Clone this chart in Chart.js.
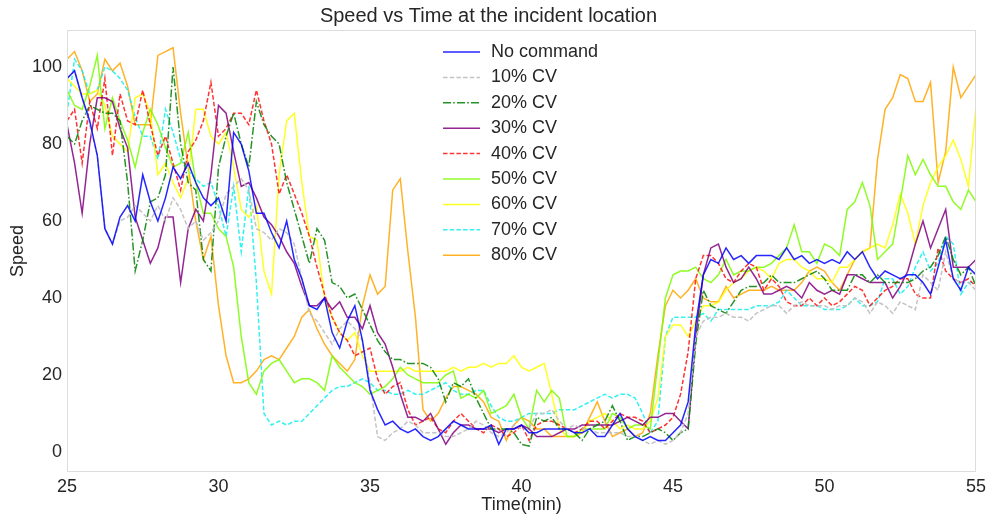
<!DOCTYPE html>
<html>
<head>
<meta charset="utf-8">
<title>Speed vs Time</title>
<script src="https://cdn.jsdelivr.net/npm/chart.js@4.4.1/dist/chart.umd.min.js"></script>
<style>
  html, body { margin: 0; padding: 0; background: #ffffff; }
  #chart { display: block; }
</style>
</head>
<body>
<canvas id="chart" width="990" height="520"></canvas>
<script>
// Sample times (minutes), one sample every 15 s
const times = [
  25, 25.25, 25.5, 25.75, 26, 26.25, 26.5, 26.75, 27, 27.25, 27.5, 27.75, 28, 28.25, 28.5, 28.75, 29, 29.25, 29.5, 29.75,
  30, 30.25, 30.5, 30.75, 31, 31.25, 31.5, 31.75, 32, 32.25, 32.5, 32.75, 33, 33.25, 33.5, 33.75, 34, 34.25, 34.5, 34.75,
  35, 35.25, 35.5, 35.75, 36, 36.25, 36.5, 36.75, 37, 37.25, 37.5, 37.75, 38, 38.25, 38.5, 38.75, 39, 39.25, 39.5, 39.75,
  40, 40.25, 40.5, 40.75, 41, 41.25, 41.5, 41.75, 42, 42.25, 42.5, 42.75, 43, 43.25, 43.5, 43.75, 44, 44.25, 44.5, 44.75,
  45, 45.25, 45.5, 45.75, 46, 46.25, 46.5, 46.75, 47, 47.25, 47.5, 47.75, 48, 48.25, 48.5, 48.75, 49, 49.25, 49.5, 49.75,
  50, 50.25, 50.5, 50.75, 51, 51.25, 51.5, 51.75, 52, 52.25, 52.5, 52.75, 53, 53.25, 53.5, 53.75, 54, 54.25, 54.5, 54.75, 55
];

// Speed per scenario
const noCommand = [
  97, 99, 92, 86, 77, 58, 54, 61, 64, 60, 72, 65, 60, 66, 74, 71, 75, 70, 66, 64,
  66, 60, 83, 80, 73, 62, 62, 57, 53, 60, 50, 45, 38, 37, 40, 31, 27, 34, 38, 29,
  16, 11, 7, 8, 6, 5, 6, 4, 3, 4, 6, 8, 7, 6, 6, 6, 7, 2, 6, 6,
  7, 5, 5, 6, 6, 6, 6, 5, 5, 6, 4, 4, 7, 10, 6, 4, 3, 4, 3, 3,
  5, 7, 13, 33, 46, 50, 49, 53, 50, 51, 49, 51, 51, 51, 50, 53, 50, 51, 49, 50,
  49, 50, 49, 52, 50, 52, 48, 45, 47, 46, 45, 46, 46, 44, 41, 48, 55, 45, 42, 48, 46
];
const cv10 = [
  97, 99, 92, 85, 77, 58, 54, 60, 61, 64, 62, 60, 64, 60, 66, 63, 58, 60, 55, 57,
  60, 67, 69, 71, 68, 58, 57, 55, 58, 57, 54, 45, 36, 34, 31, 28, 32, 34, 32, 29,
  18, 4, 3, 5, 6, 8, 7, 5, 5, 5, 4, 4, 5, 6, 8, 7, 5, 4, 5, 7,
  6, 6, 10, 10, 11, 8, 6, 7, 6, 6, 5, 5, 5, 5, 4, 4, 3, 2, 3, 2,
  3, 5, 10, 30, 34, 35, 35, 36, 35, 35, 34, 36, 37, 38, 38, 36, 38, 39, 38, 38,
  38, 37, 38, 38, 40, 39, 36, 39, 38, 36, 39, 38, 37, 46, 44, 42, 52, 45, 44, 44, 42
];
const cv20 = [
  82, 80, 86, 90, 89, 88, 88, 86, 70, 47, 55, 65, 66, 72, 100, 80, 70, 68, 50, 47,
  74, 82, 88, 80, 74, 91, 85, 82, 80, 70, 63, 56, 49, 58, 55, 44, 43, 40, 41, 37,
  33, 29, 26, 24, 24, 23, 23, 23, 22, 19, 13, 18, 17, 19, 14, 10, 6, 6, 6, 5,
  2, 1.5, 9, 8, 9, 6, 6, 5, 3, 6, 7, 8, 12, 8, 3, 4, 4, 5, 6, 5,
  3, 5, 6, 28, 42, 38, 37, 36, 39, 42, 43, 43, 44, 46, 44, 44, 44, 45, 46, 47,
  45, 42, 42, 42, 46, 46, 44, 46, 44, 44, 44, 44, 45, 47, 48, 51, 56, 50, 46, 48, 43
];
const cv30 = [
  85, 75, 62, 80, 92, 92, 91, 84, 79, 61, 55, 49, 53, 61, 61, 44, 58, 63, 60, 72,
  90, 88, 78, 69, 70, 66, 61, 59, 56, 52, 49, 43, 38, 38, 40, 37, 39, 35, 35, 32,
  38, 31, 28, 22, 15, 9, 9, 8, 10, 6, 2, 5, 7, 7, 6, 6, 6, 5, 6, 6,
  7, 6, 4, 4, 4, 5, 6, 6, 7, 7, 7, 7, 7, 8, 9, 8, 7, 9, 9, 10,
  10, 8, 6, 30, 46, 53, 54, 48, 44, 45, 48, 45, 41, 41, 42, 43, 42, 40, 44, 42,
  41, 42, 41, 46, 46, 45, 44, 44, 44, 40, 43, 47, 54, 60, 53, 58, 63, 48, 48, 48, 50
];
const cv40 = [
  86, 89, 75, 91, 84, 97, 77, 93, 86, 85, 94, 85, 77, 82, 75, 68, 78, 81, 86, 96,
  82, 84, 88, 88, 85, 94, 86, 80, 67, 72, 67, 62, 56, 48, 41, 35, 31, 29, 25, 26,
  27, 19, 15, 17, 18, 11, 7, 8, 9, 6, 5, 8, 10, 8, 6, 5, 7, 6, 4, 5,
  7, 3, 7, 8, 8, 7, 6, 5, 6, 8, 8, 6, 8, 10, 9, 9, 8, 5, 6, 7,
  9, 15, 26, 45, 51, 51, 49, 45, 44, 47, 49, 48, 42, 45, 43, 39, 38, 38, 40, 38,
  40, 38, 39, 41, 43, 42, 38, 40, 42, 43, 45, 45, 41, 40, 40, 53, 47, 45, 44, 45, 43
];
const cv50 = [
  94, 90, 89, 95, 103, 84, 92, 86, 81, 74, 83, 89, 85, 79, 74, 75, 83, 70, 62, 62,
  58, 56, 48, 30, 18, 15, 21, 23, 24, 21, 18, 19, 19, 18, 16, 25, 22, 20, 18, 17,
  15, 16, 17, 19, 22, 20, 19, 18, 18, 18, 20, 21, 14, 15, 14, 16, 10, 11, 12, 15,
  9, 6, 16, 13, 16, 14, 4, 4, 6, 6, 6, 6, 10, 9, 6, 7, 7, 6, 23, 40,
  46, 47, 47, 48, 45, 44, 46, 50, 46, 47, 47, 48, 48, 49, 51, 53, 59, 52, 52, 49,
  54, 53, 51, 63, 65, 70, 64, 50, 52, 54, 65, 77, 72, 76, 72, 69, 69, 65, 63, 68, 65
];
const cv60 = [
  97, 95, 93, 93, 94, 90, 82, 80, 78, 92, 93, 88, 72, 75, 70, 66, 71, 89, 89, 82,
  80, 83, 74, 63, 61, 64, 47, 41, 72, 86, 88, 70, 56, 55, 40, 35, 31, 29, 31, 25,
  21, 21, 21, 21, 21, 22, 21, 21, 21, 21, 21, 22, 21, 22, 22, 23, 22, 23, 23, 25,
  22, 21, 22, 23, 15, 6, 4, 4, 5, 8, 9, 10, 8, 6, 7, 6, 6, 8, 14, 30,
  33, 33, 30, 34, 38, 38, 39, 42, 44, 45, 47, 48, 47, 45, 49, 50, 50, 48, 47, 45,
  45, 44, 48, 48, 50, 52, 53, 54, 53, 59, 67, 62, 54, 64, 70, 74, 77, 81, 76, 69, 90
];
const cv70 = [
  88, 102, 99, 93, 94, 100, 99, 97, 94, 87, 82, 82, 76, 89, 83, 76, 73, 71, 69, 70,
  64, 56, 69, 52, 69, 44, 10, 7, 8, 7, 8, 8, 10, 12, 14, 16, 17, 17, 18, 19,
  18, 16, 16, 15, 15, 16, 15, 15, 16, 17, 18, 16, 15, 15, 16, 16, 12, 9, 8, 8,
  9, 10, 10, 10, 10, 11, 11, 11, 12, 13, 14, 15, 14, 15, 15, 14, 10, 5, 8, 30,
  35, 35, 35, 35, 36, 34, 37, 37, 37, 37, 37, 38, 38, 38, 39, 42, 40, 38, 38, 38,
  37, 37, 37, 38, 40, 38, 38, 39, 45, 45, 41, 43, 48, 52, 47, 49, 56, 54, 41, 44, 44
];
const cv80 = [
  102, 104, 99, 91, 93, 102, 99, 101, 95, 85, 85, 85, 103, 104, 105, 88, 74, 60, 50, 56,
  38, 25, 18, 18, 19, 21, 24, 25, 24, 27, 30, 35, 37, 32, 28, 25, 23, 21, 24, 38,
  46, 41, 43, 68, 71, 52, 35, 11, 8, 10, 14, 17, 17, 16, 15, 13, 9, 8, 3, 7,
  9, 8, 6, 6, 4, 4, 4, 4, 5, 9, 13, 8, 4, 5, 6, 4, 5, 10, 25, 38,
  42, 40, 42, 45, 40, 39, 39, 43, 40, 41, 42, 42, 42, 43, 42, 42, 42, 44, 47, 48,
  47, 44, 42, 46, 50, 52, 53, 76, 89, 92, 98, 97, 91, 91, 96, 70, 78, 100, 92, 95, 98
];

const seriesNames = ['No command', '10% CV', '20% CV', '30% CV', '40% CV', '50% CV', '60% CV', '70% CV', '80% CV'];
const xTicks = [25, 30, 35, 40, 45, 50, 55];
const yTicks = [0, 20, 40, 60, 80, 100];

const FONT = '"Liberation Sans", Arial, sans-serif';
const TEXT = '#262626';

const DASHED = [4.5, 2.2];
const DASH_DOT = [8, 2.2, 1.6, 2.2];

const styles = [
  { color: 'rgba(0, 0, 255, 0.85)', dash: [] },
  { color: 'rgba(192, 192, 192, 0.95)', dash: DASHED },
  { color: 'rgba(0, 128, 0, 0.85)', dash: DASH_DOT },
  { color: 'rgba(128, 0, 128, 0.85)', dash: [] },
  { color: 'rgba(255, 0, 0, 0.8)', dash: DASHED },
  { color: 'rgba(124, 252, 0, 0.85)', dash: [] },
  { color: 'rgba(255, 255, 0, 0.85)', dash: [] },
  { color: 'rgba(0, 238, 238, 0.8)', dash: DASHED },
  { color: 'rgba(255, 165, 0, 0.85)', dash: [] }
];

const seriesValues = [noCommand, cv10, cv20, cv30, cv40, cv50, cv60, cv70, cv80];

const datasets = seriesValues.map((vals, i) => ({
  label: seriesNames[i],
  data: vals.map((v, j) => ({ x: times[j], y: v })),
  borderColor: styles[i].color,
  borderDash: styles[i].dash,
  borderWidth: 1.5,
  pointRadius: 0,
  tension: 0,
  fill: false
}));

// Light frame around the plot area plus a vertical legend inside it
const frameAndLegend = {
  id: 'frameAndLegend',
  afterDraw(chart) {
    const { ctx, chartArea: a } = chart;
    ctx.save();
    ctx.strokeStyle = '#dddddd';
    ctx.lineWidth = 1;
    ctx.setLineDash([]);
    ctx.strokeRect(Math.round(a.left) + 0.5, Math.round(a.top) + 0.5,
      Math.round(a.right - a.left) - 1, Math.round(a.bottom - a.top) - 1);

    ctx.font = '18px ' + FONT;
    ctx.textBaseline = 'middle';
    ctx.textAlign = 'left';
    chart.data.datasets.forEach((ds, i) => {
      const y = 52 + i * 25.4;
      ctx.beginPath();
      ctx.strokeStyle = ds.borderColor;
      ctx.lineWidth = 1.5;
      ctx.setLineDash(ds.borderDash || []);
      ctx.moveTo(443, y);
      ctx.lineTo(480, y);
      ctx.stroke();
      ctx.fillStyle = TEXT;
      ctx.fillText(ds.label, 491, y);
    });
    ctx.restore();
  }
};

new Chart(document.getElementById('chart').getContext('2d'), {
  type: 'line',
  data: { datasets: datasets },
  options: {
    responsive: false,
    animation: false,
    layout: { padding: { left: 0, right: 13, top: 0, bottom: 0 } },
    plugins: {
      legend: { display: false },
      tooltip: { enabled: false },
      title: {
        display: true,
        text: 'Speed vs Time at the incident location',
        color: TEXT,
        font: { family: FONT, size: 20, weight: 'normal' },
        padding: { top: 4, bottom: 2 }
      }
    },
    scales: {
      x: {
        type: 'linear',
        min: 25,
        max: 55,
        afterBuildTicks: (scale) => { scale.ticks = xTicks.map(v => ({ value: v })); },
        afterFit: (scale) => { scale.height = 48; },
        grid: { display: false, drawTicks: false },
        border: { display: false },
        ticks: { padding: 4, color: TEXT, font: { family: FONT, size: 18 }, maxRotation: 0 },
        title: {
          display: true,
          text: 'Time(min)',
          color: TEXT,
          font: { family: FONT, size: 18 },
          padding: { top: 0, bottom: 4 }
        }
      },
      y: {
        type: 'linear',
        min: -5.2,
        max: 109.6,
        afterBuildTicks: (scale) => { scale.ticks = yTicks.map(v => ({ value: v })); },
        afterFit: (scale) => { scale.width = 67; },
        grid: { display: false, drawTicks: false },
        border: { display: false },
        ticks: { padding: 5, color: TEXT, font: { family: FONT, size: 18 } },
        title: {
          display: true,
          text: 'Speed',
          color: TEXT,
          font: { family: FONT, size: 18 },
          padding: { top: 7, bottom: 0 }
        }
      }
    }
  },
  plugins: [frameAndLegend]
});
</script>
</body>
</html>
